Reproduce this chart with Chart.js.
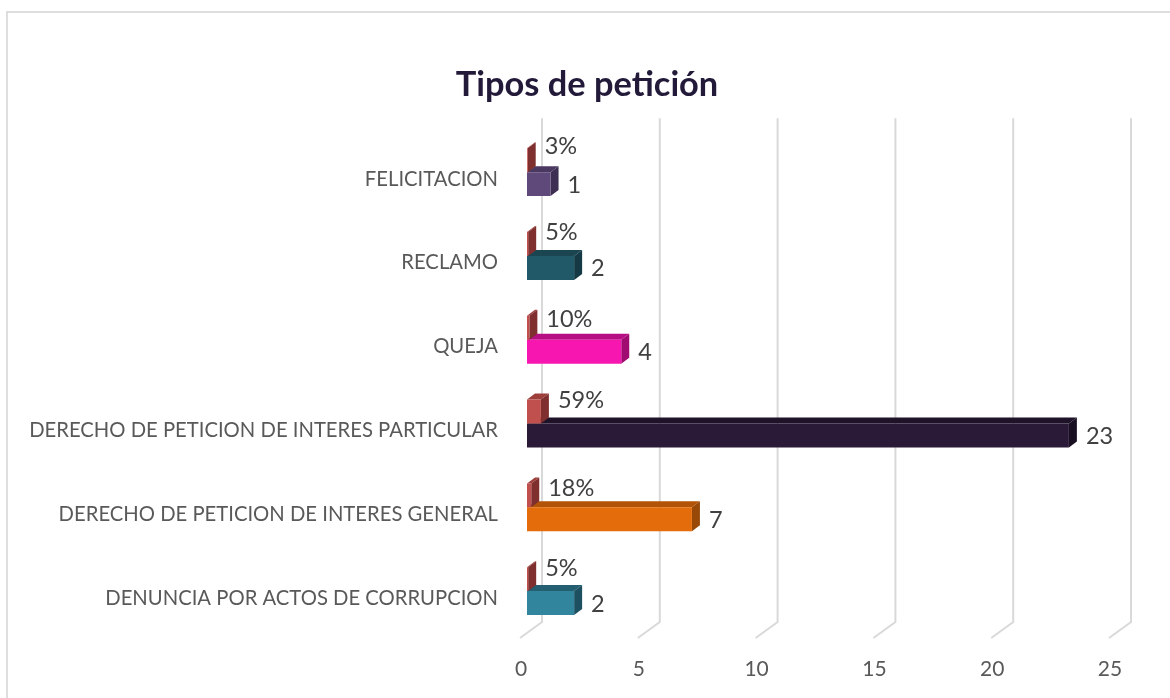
<!DOCTYPE html>
<html><head><meta charset="utf-8">
<style>
html,body{margin:0;padding:0;background:#fff;overflow:hidden}
#wrap{position:absolute;left:0;top:0;width:1170px;height:698px}
#frame{position:absolute;left:6px;top:11px;width:1164px;height:687px;border-left:2px solid #dedede;border-top:2px solid #dedede;box-sizing:border-box;pointer-events:none}
canvas{position:absolute;left:0;top:0}
</style>
<script src="https://cdn.jsdelivr.net/npm/chart.js@4"></script>
</head><body>
<div id="wrap"><div id="frame"></div><canvas id="c" width="1170" height="698"></canvas></div>
<script>
const categories = ["FELICITACION","RECLAMO","QUEJA","DERECHO DE PETICION DE INTERES PARTICULAR","DERECHO DE PETICION DE INTERES GENERAL","DENUNCIA POR ACTOS DE CORRUPCION"];
const counts = [1,2,4,23,7,2];
const shares = [0.03,0.05,0.10,0.59,0.18,0.05];
const shareLabels = ["3%","5%","10%","59%","18%","5%"];
const xTicks = [0,5,10,15,20,25];
const countColors = ["#5f497a","#215968","#f716b0","#2a1a38","#e46c0a","#31859c"];
const countTops   = ["#4a3860","#1a4551","#b80e84","#1f1329","#b25307","#235f70"];
const countSides  = ["#3e2f52","#153a45","#a00b72","#190f22","#984807","#1d5060"];
const shareColor = "#c0504d", shareTop="#9e3f3c", shareSide="#7f2f2d";
const shareNudge = [-14,-12,-8,-11,-7,-11];

const FONT = "Lato, 'Open Sans', sans-serif";
const DX = 8, DY = 6;

function prism(ctx, b, top, side){
  const l=Math.min(b.x,b.base), r=Math.max(b.x,b.base), t=b.y-b.height/2, bot=b.y+b.height/2;
  ctx.fillStyle=top;
  ctx.beginPath();ctx.moveTo(l,t);ctx.lineTo(l+DX,t-DY);ctx.lineTo(r+DX,t-DY);ctx.lineTo(r,t);ctx.closePath();ctx.fill();
  ctx.fillStyle=side;
  ctx.beginPath();ctx.moveTo(r,t);ctx.lineTo(r+DX,t-DY);ctx.lineTo(r+DX,bot-DY);ctx.lineTo(r,bot);ctx.closePath();ctx.fill();
}

const threeD = {
  id:'threeD',
  beforeDatasetsDraw(chart){
    const {ctx,scales:{x},chartArea:a}=chart;
    ctx.save();
    ctx.strokeStyle="#d9d9d9";ctx.lineWidth=2;
    xTicks.forEach(v=>{
      const p=x.getPixelForValue(v);
      ctx.beginPath();
      ctx.moveTo(p+15,a.top-12);ctx.lineTo(p+15,a.bottom-11);ctx.lineTo(p-7,a.bottom+5);
      ctx.stroke();
    });
    chart.getDatasetMeta(1).data.forEach((b,i)=>prism(ctx,b,countTops[i],countSides[i]));
    chart.getDatasetMeta(0).data.forEach(b=>prism(ctx,b,shareTop,shareSide));
    ctx.restore();
  },
  afterDatasetsDraw(chart){
    const {ctx}=chart;
    ctx.save();
    ctx.fillStyle="#404040";ctx.textAlign="left";ctx.textBaseline="middle";
    ctx.font="23.5px "+FONT;
    chart.getDatasetMeta(1).data.forEach((b,i)=>ctx.fillText(String(counts[i]),b.x+17,b.y+1));
    chart.getDatasetMeta(0).data.forEach((b,i)=>ctx.fillText(shareLabels[i],b.x+17,b.y+shareNudge[i]));
    ctx.restore();
  }
};

new Chart(document.getElementById('c'),{
  type:'bar',
  data:{labels:categories,datasets:[
    {label:"Porcentaje",data:shares,backgroundColor:shareColor,borderWidth:0,categoryPercentage:0.571,barPercentage:1},
    {label:"Cantidad",data:counts,backgroundColor:countColors,borderWidth:0,categoryPercentage:0.571,barPercentage:1}
  ]},
  options:{
    indexAxis:'y',responsive:false,animation:false,
    layout:{padding:{left:4,right:0,top:0,bottom:0}},
    plugins:{
      legend:{display:false},tooltip:{enabled:false},
      title:{display:true,text:"Tipos de petición",color:"#231a3a",font:{family:FONT,size:34.4,weight:'bold'},padding:{top:64,bottom:25}}
    },
    scales:{
      x:{min:0,max:25,grid:{display:false},border:{display:false},
        afterBuildTicks(s){s.ticks=xTicks.map(v=>({value:v}));},
        afterFit(s){s.height=65;s.paddingRight=54;},
        ticks:{color:"#595959",font:{family:FONT,size:21},padding:16,labelOffset:-6,maxRotation:0}},
      y:{grid:{display:false},border:{display:false},
        afterFit(s){s.width=523;},
        ticks:{color:"#595959",font:{family:FONT,size:20.25},padding:21,labelOffset:7,autoSkip:false}}
    }
  },
  plugins:[threeD]
});
</script>
</body></html>
